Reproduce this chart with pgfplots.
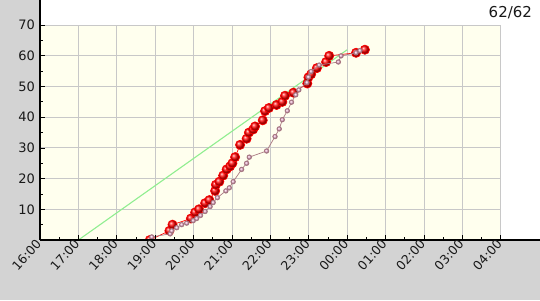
\documentclass[border=0pt]{standalone}
\usepackage{fontspec}
\setmainfont{DejaVu Sans}
\usepackage{pgfplots}
\pgfplotsset{compat=1.18}
\definecolor{bggray}{RGB}{211,211,211}
\definecolor{plotyellow}{RGB}{255,255,238}
\definecolor{gridgray}{RGB}{200,200,200}
\definecolor{greenline}{RGB}{144,238,144}
\definecolor{pinkline}{RGB}{170,120,130}
\definecolor{pinkball}{RGB}{235,175,205}
\begin{document}
\begin{tikzpicture}[x=1pt,y=1pt]
\path[use as bounding box] (0,0) rectangle (540,300);
\fill[bggray] (0,0) rectangle (540,300);
\begin{axis}[
  at={(40pt,60pt)}, anchor=origin,
  scale only axis, width=500pt, height=240pt,
  xmin=0, xmax=13.02, ymin=0, ymax=78.2,
  axis background/.style={fill=white},
  axis on top,
  axis x line=bottom, axis y line=left,
  axis line style={-, black, line width=1.3pt},
  tick align=inside,
  major tick length=5pt, minor tick length=3pt,
  tick style={black, line width=0.8pt},
  xtick={0,1,...,12},
  xticklabels={16:00,17:00,18:00,19:00,20:00,21:00,22:00,23:00,00:00,01:00,02:00,03:00,04:00},
  minor xtick={0.5,1.5,...,11.5},
  ytick={10,20,...,70},
  minor ytick={5,15,...,65},
  /pgf/number format/assume math mode=true,
  yticklabel style={font=\fontsize{13}{15}\selectfont, text=black!90, inner sep=2pt, xshift=-3pt},
  xticklabel style={font=\fontsize{12.5}{14}\selectfont, text=black!90, rotate=48, anchor=east, inner sep=2pt},
  clip=true,
  clip marker paths=true,
]
\fill[plotyellow] (axis cs:0,0) rectangle (axis cs:12,70);
\pgfplotsinvokeforeach{1,...,12}{\draw[gridgray, line width=0.9pt] (axis cs:#1,0) -- (axis cs:#1,70);}
\pgfplotsinvokeforeach{10,20,...,70}{\draw[gridgray, line width=0.9pt] (axis cs:0,#1) -- (axis cs:12,#1);}

\addplot[greenline, line width=1.1pt, no marks] coordinates {(1,0) (8,62)};

\addplot[red, line width=0.7pt, mark=ball, mark size=4.6pt, mark options={ball color=red}] coordinates {
(2.86,0) (3.37,3) (3.45,5) (3.93,7) (4.04,9) (4.14,10) (4.30,12) (4.41,13)
(4.56,16) (4.58,18) (4.67,19) (4.77,21) (4.86,23) (4.95,24) (5.01,25) (5.08,27)
(5.21,31) (5.38,33) (5.44,35) (5.55,36) (5.60,37) (5.80,39) (5.86,42) (5.96,43)
(6.16,44) (6.31,45) (6.38,47) (6.60,48) (6.96,51) (6.99,53) (7.06,54) (7.21,56)
(7.45,58) (7.53,60) (8.23,61) (8.46,62)
};

\addplot[pinkline, line width=0.7pt, mark=ball, mark size=2.3pt, mark options={ball color=pinkball}] coordinates {
(2.91,1) (3.39,2) (3.43,3) (3.56,4) (3.69,5) (3.82,5.5) (3.99,6.3) (4.08,7)
(4.18,8) (4.30,9.3) (4.43,10.9) (4.51,12.2) (4.62,13.8) (4.84,16) (4.93,17) (5.03,19)
(5.25,23) (5.38,25) (5.45,27) (5.90,29) (6.12,33.7) (6.23,36.2) (6.31,39.2) (6.44,42.1)
(6.55,44.9) (6.66,47.3) (6.74,48.9) (6.95,51.3) (6.99,53.1) (7.06,54.9) (7.27,57) (7.77,58)
(7.84,60) (8.23,61) (8.33,61.7)
};

\node[anchor=east, font=\fontsize{15}{17}\selectfont, text=black!90] at (rel axis cs:0.991,0.946) {62/62};
\end{axis}
\end{tikzpicture}
\end{document}
